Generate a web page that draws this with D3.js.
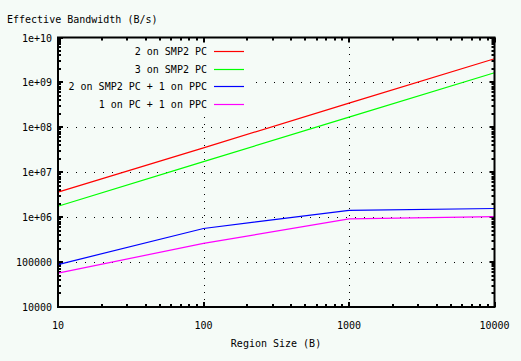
<!DOCTYPE html>
<html><head><meta charset="utf-8">
<script src="https://cdn.jsdelivr.net/npm/d3@7"></script>
<style>
body{margin:0;background:#f5fbf7;}
svg{display:block;}
text{font-family:"DejaVu Sans Mono",monospace;font-size:10px;fill:#000;}
</style></head>
<body>
<script>
const regionSizes = [10, 100, 1000, 10000];
const seriesNames = ["2 on SMP2 PC", "3 on SMP2 PC", "2 on SMP2 PC + 1 on PPC", "1 on PC + 1 on PPC"];
const seriesColors = ["#ff0000", "#00ff00", "#0000ff", "#ff00ff"];
const smp2x2 = [3.6e6, 3.5e7, 3.45e8, 3.37e9];
const smp2x3 = [1.75e6, 1.72e7, 1.69e8, 1.64e9];
const smp2PlusPpc = [8.8e4, 5.6e5, 1.41e6, 1.56e6];
const pcPlusPpc = [5.7e4, 2.6e5, 9.2e5, 1.03e6];
const xTicks = [10, 100, 1000, 10000];
const xTickLabels = ["10", "100", "1000", "10000"];
const yTicks = [1e4, 1e5, 1e6, 1e7, 1e8, 1e9, 1e10];
const yTickLabels = ["10000", "100000", "1e+06", "1e+07", "1e+08", "1e+09", "1e+10"];
const seriesValues = [smp2x2, smp2x3, smp2PlusPpc, pcPlusPpc];

const W = 521, H = 361;
const L = 58, R = 494.5, T = 37.5, B = 307;
const svg = d3.select("body").append("svg").attr("width", W).attr("height", H);
svg.append("rect").attr("width", W).attr("height", H).attr("fill", "#f5fbf7");

const x = d3.scaleLog().domain([10, 10000]).range([L, R]);
const y = d3.scaleLog().domain([1e4, 1e10]).range([B, T]);

// grid
const grid = svg.append("g");
xTicks.slice(1, -1).forEach(v => {
  grid.append("line").attr("x1", Math.round(x(v)) + 0.5).attr("x2", Math.round(x(v)) + 0.5)
    .attr("y1", B).attr("y2", T).attr("stroke", "#000").attr("stroke-dasharray", "1,6");
});
yTicks.slice(1, -1).forEach(v => {
  grid.append("line").attr("y1", Math.round(y(v)) + 0.5).attr("y2", Math.round(y(v)) + 0.5)
    .attr("x1", L).attr("x2", R).attr("stroke", "#000").attr("stroke-dasharray", "1,8");
});
// legend area clears grid
svg.append("rect").attr("x", L + 1).attr("y", T + 1).attr("width", 190).attr("height", 77).attr("fill", "#f5fbf7");

// minor + major ticks
const tickG = svg.append("g").attr("stroke", "#000").attr("stroke-width", 2);
const minorX = [], minorY = [];
for (let d = 10; d < 10000; d *= 10) for (let k = 2; k <= 9; k++) minorX.push(d * k);
for (let d = 1e4; d < 1e10; d *= 10) for (let k = 2; k <= 9; k++) minorY.push(d * k);
function xt(v, len) {
  const px = Math.round(x(v));
  tickG.append("line").attr("x1", px).attr("x2", px).attr("y1", B).attr("y2", B - len);
  tickG.append("line").attr("x1", px).attr("x2", px).attr("y1", T).attr("y2", T + len);
}
function yt(v, len) {
  const py = Math.round(y(v));
  tickG.append("line").attr("y1", py).attr("y2", py).attr("x1", L).attr("x2", L + len);
  tickG.append("line").attr("y1", py).attr("y2", py).attr("x1", R).attr("x2", R - len);
}
minorX.forEach(v => xt(v, 3));
xTicks.forEach(v => xt(v, 5));
minorY.forEach(v => yt(v, 3));
yTicks.forEach(v => yt(v, 5));

// data lines
const line = d3.line().x((d, i) => x(regionSizes[i])).y(d => y(d));
seriesValues.forEach((vals, si) => {
  svg.append("path").datum(vals).attr("d", line).attr("fill", "none")
    .attr("stroke", seriesColors[si]).attr("stroke-width", 1.2);
});

// frame
svg.append("rect").attr("x", L).attr("y", T).attr("width", R - L).attr("height", B - T)
  .attr("fill", "none").attr("stroke", "#000").attr("stroke-width", 2);

// tick labels
xTicks.forEach((v, i) => {
  svg.append("text").attr("x", x(v)).attr("y", 329).attr("text-anchor", "middle").text(xTickLabels[i]);
});
yTicks.forEach((v, i) => {
  svg.append("text").attr("x", 52).attr("y", y(v) + 4).attr("text-anchor", "end").text(yTickLabels[i]);
});

// titles
svg.append("text").attr("x", 7).attr("y", 23).text("Effective Bandwidth (B/s)");
svg.append("text").attr("x", 276).attr("y", 347).attr("text-anchor", "middle").text("Region Size (B)");

// legend
seriesNames.forEach((n, i) => {
  const ly = 51 + i * 17.7;
  svg.append("text").attr("x", 207).attr("y", ly + 4).attr("text-anchor", "end").text(n);
  svg.append("line").attr("x1", 214).attr("x2", 244).attr("y1", Math.round(ly) + 0.5).attr("y2", Math.round(ly) + 0.5)
    .attr("stroke", seriesColors[i]).attr("stroke-width", 1.2);
});
</script>
</body></html>
